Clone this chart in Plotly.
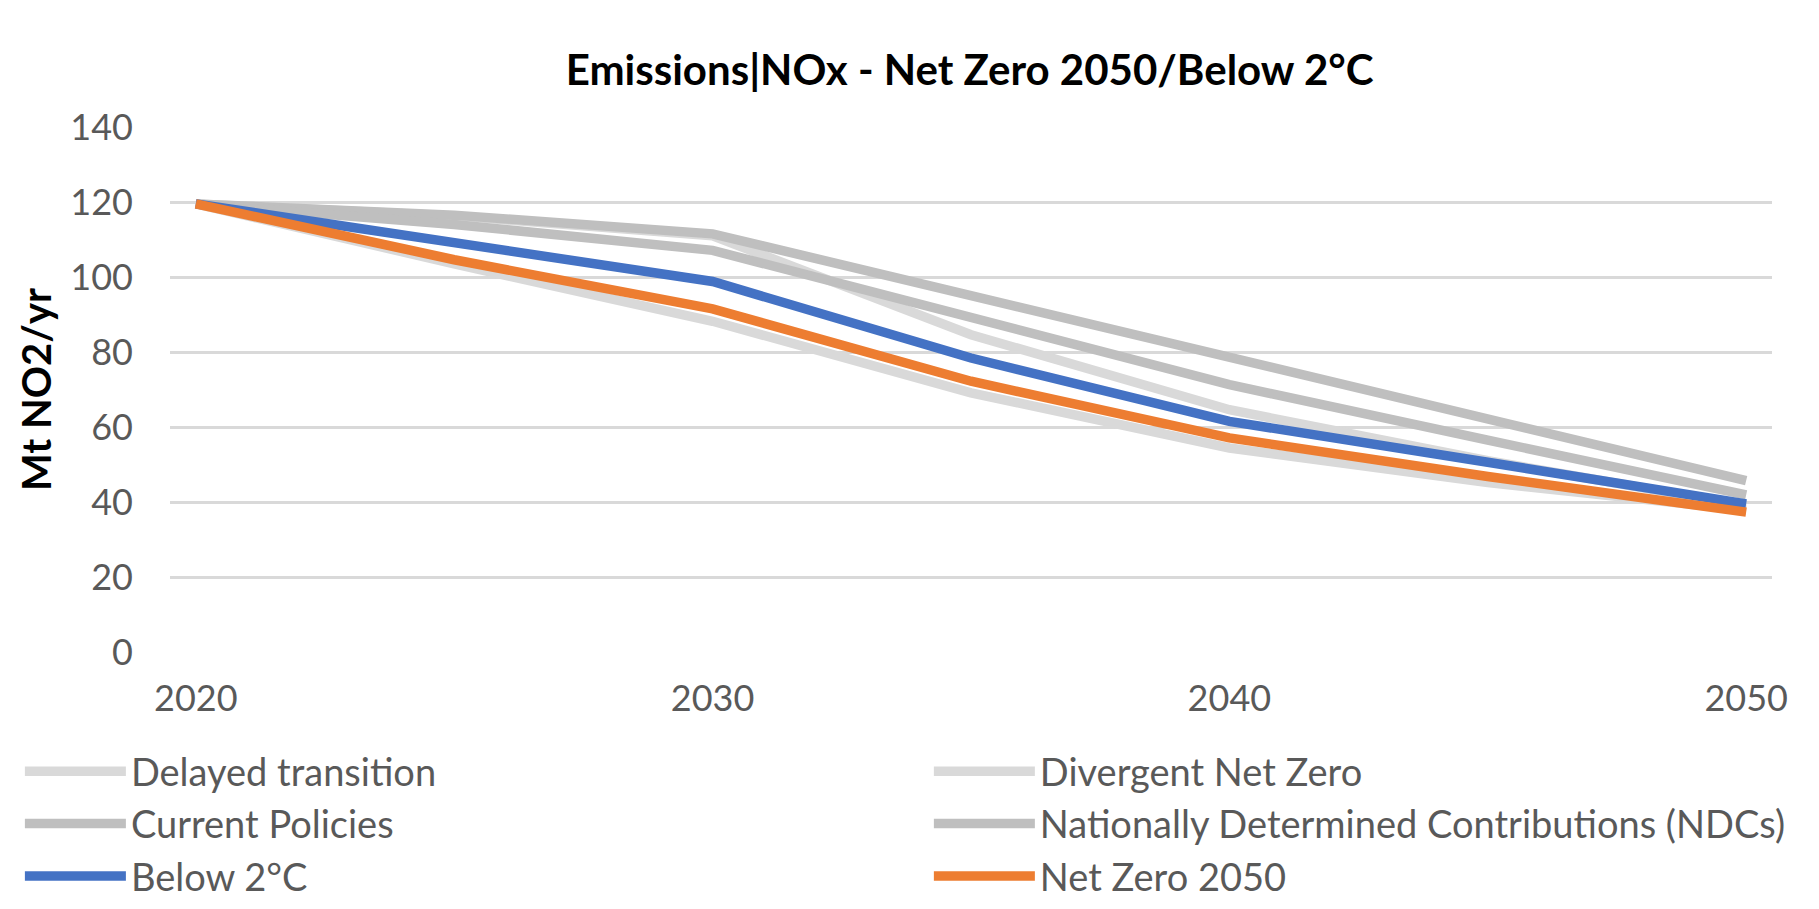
"""NOx emissions pathways, Net Zero 2050 / Below 2°C."""
import plotly.graph_objects as go

years = [2020, 2025, 2030, 2035, 2040, 2045, 2050]

delayed_transition = [119.5, 116.3, 111.0, 84.6, 64.6, 51.0, 39.0]
divergent_net_zero = [119.5, 103.5, 88.2, 69.1, 54.4, 45.2, 37.8]
current_policies = [119.5, 116.5, 111.5, 95.2, 78.5, 62.2, 45.7]
ndcs = [119.5, 114.0, 107.1, 89.2, 71.3, 56.5, 41.9]
below_2c = [119.5, 109.3, 98.8, 78.4, 61.5, 50.6, 39.5]
net_zero_2050 = [119.5, 104.6, 91.5, 72.2, 57.1, 46.8, 37.3]

series_names = [
    "Delayed transition",
    "Divergent Net Zero",
    "Current Policies",
    "Nationally Determined Contributions (NDCs)",
    "Below 2°C",
    "Net Zero 2050",
]
series_values = [delayed_transition, divergent_net_zero, current_policies,
                 ndcs, below_2c, net_zero_2050]
series_colors = ["#D9D9D9", "#D9D9D9", "#BFBFBF", "#BFBFBF", "#4472C4", "#ED7D31"]
# left column / right column of the legend, like excel lays it out
series_legend = ["legend", "legend2", "legend", "legend2", "legend", "legend2"]

FONT = "Lato"
GREY_TEXT = "#595959"

fig = go.Figure()
for name, vals, col, lg in zip(series_names, series_values, series_colors, series_legend):
    fig.add_trace(go.Scatter(
        x=years, y=vals, name=name, mode="lines", legend=lg,
        line=dict(color=col, width=9.5),
    ))

# page body has an 8px margin, so the figure is 8px smaller than the window
legend_style = dict(
    orientation="v", xanchor="left", y=-0.1676, yanchor="top",
    font=dict(family=FONT, size=38, color=GREY_TEXT),
    itemwidth=101, tracegroupgap=0, bgcolor="rgba(0,0,0,0)",
)
fig.update_layout(
    width=1811, height=901,
    paper_bgcolor="white", plot_bgcolor="white",
    margin=dict(l=162, r=47, t=119, b=257, autoexpand=False),
    font=dict(family=FONT, size=36, color=GREY_TEXT),
    title=dict(
        text="<b>Emissions|NOx - Net Zero 2050/Below 2°C</b>",
        x=0.531, xanchor="center", y=1 - 62 / 901, yanchor="middle",
        font=dict(family=FONT, size=42, color="black"),
    ),
    showlegend=True,
    legend=dict(x=-0.0937, **legend_style),
    legend2=dict(x=0.4737, **legend_style),
)

fig.update_xaxes(
    range=[2019.5, 2050.5], tickvals=[2020, 2030, 2040, 2050],
    showgrid=False, zeroline=False, showline=False, ticks="",
    ticklabelstandoff=22,
)
fig.update_yaxes(
    range=[0, 140], dtick=20, tick0=0,
    showgrid=True, gridcolor="#D9D9D9", gridwidth=2.5,
    zeroline=False, showline=False, ticks="",
    ticklabelstandoff=36,
    title=dict(text="<b>Mt NO2/yr</b>", font=dict(family=FONT, size=40, color="black"),
               standoff=6),
)

fig.write_html("out.html")
